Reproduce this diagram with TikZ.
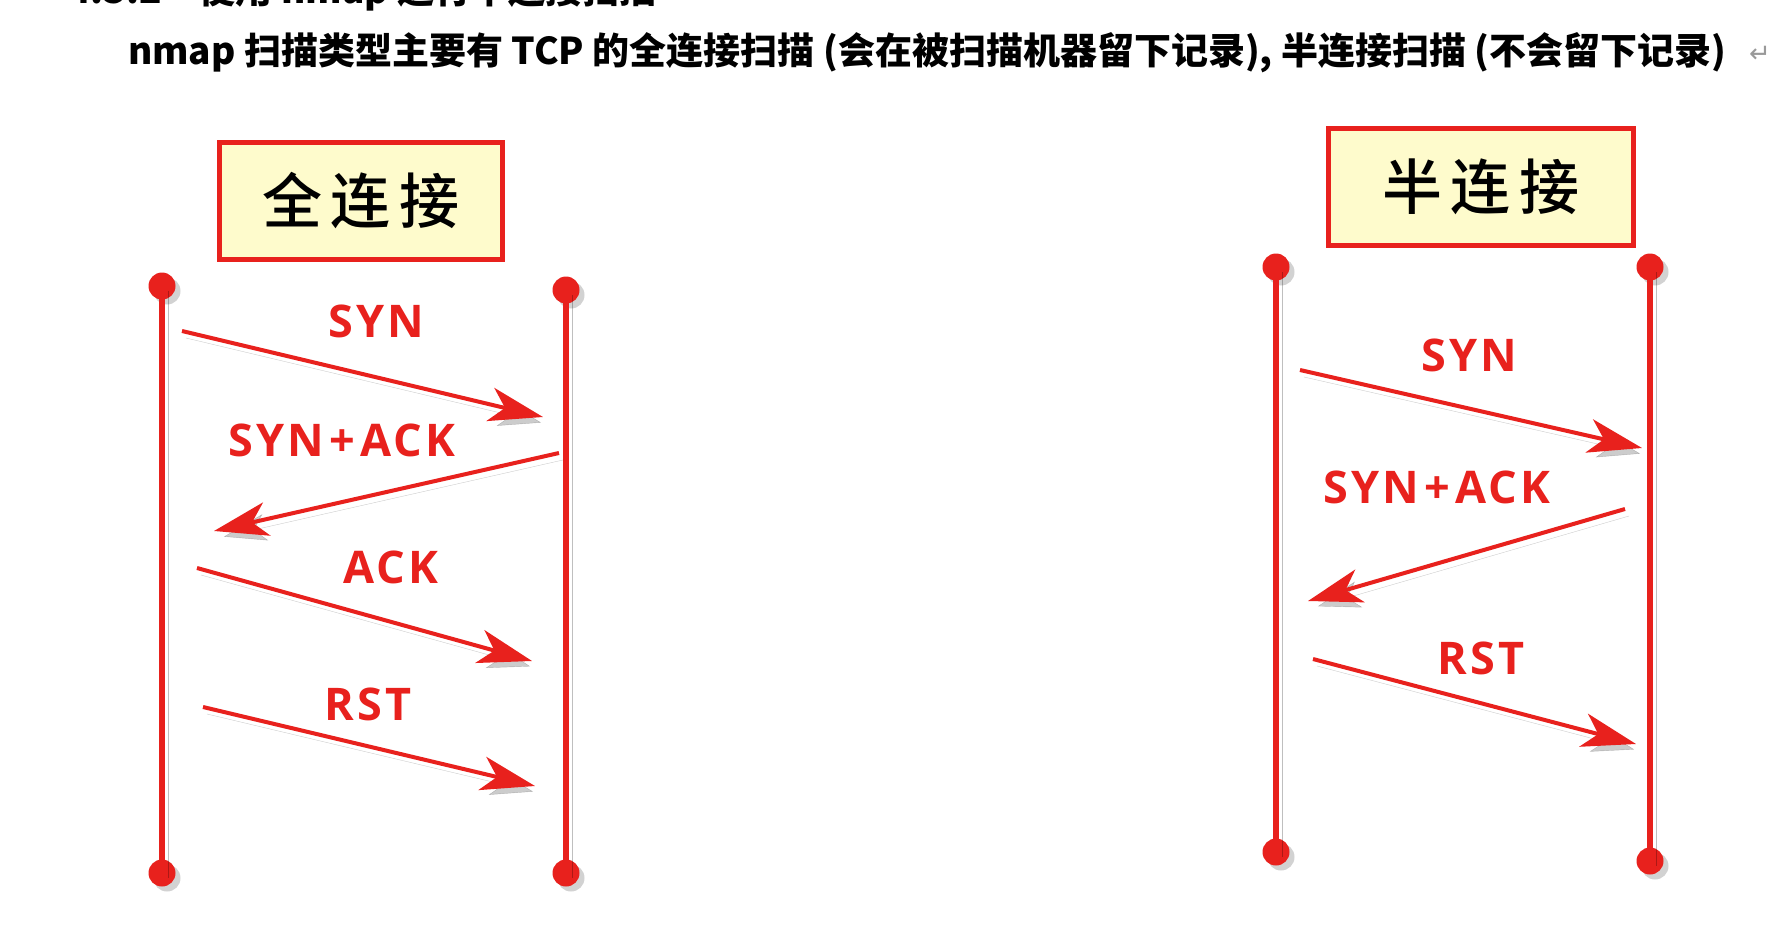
\documentclass[tikz,border=0pt]{standalone}
\usepackage{fontspec}
\setmainfont{Open Sans}
\newfontfamily\lblfont{Open Sans}[LetterSpace=7]
\newfontfamily\cjk{Noto Sans CJK SC}
\newfontfamily\cjktitle{Noto Sans CJK SC Medium}[LetterSpace=14]
\newfontfamily\symfont{DejaVu Sans}
\usetikzlibrary{arrows.meta,shadows}
\definecolor{seqred}{HTML}{E8211D}
\definecolor{boxfill}{HTML}{FEFBCC}

\begin{document}
\begin{tikzpicture}[x=1pt,y=-1pt,>={Stealth[length=54pt,width=34pt,inset=15pt]},
  lifedot/.style={circle,fill=seqred,inner sep=0pt,minimum size=27pt,
    drop shadow={shadow xshift=5pt,shadow yshift=-5pt,opacity=.35}},
  life/.style={draw=seqred,line width=6.5pt,
    preaction={draw=black,opacity=.25,transform canvas={shift={(6pt,-5pt)}}}},
  msg/.style={draw=seqred,line width=4pt,->,
    preaction={draw=black,opacity=.2,transform canvas={shift={(4pt,-7pt)}}}},
  lbl/.style={text=seqred,font=\lblfont\fontsize{45}{54}\selectfont\bfseries},
  titlebox/.style={draw=seqred,line width=5pt,fill=boxfill,minimum height=117pt,
    font=\cjktitle\fontsize{60}{66}\selectfont}]
  \useasboundingbox[fill=white] (0,0) rectangle (1786,926);
  % heading text
  \node[anchor=base west,inner sep=0pt,font=\cjk\bfseries\fontsize{37}{40}\selectfont] (head) at (68,4) {4.3.2\quad 使用 nmap 进行半连接扫描};
  \node[anchor=base west,inner sep=0pt,font=\cjk\bfseries\fontsize{37}{40}\selectfont] (intro) at (128,64)
    {nmap 扫描类型主要有 TCP 的全连接扫描 (会在被扫描机器留下记录), 半连接扫描 (不会留下记录)};
  \node[anchor=base west,inner sep=0pt,text=black!40,font=\symfont\fontsize{26}{30}\selectfont] (ret) at (1749,62) {↵};
  % full connect
  \node[titlebox,minimum width=283pt] (tfull) at (361,201) {全连接};
  \node[lifedot] (la1) at (162,286) {};
  \node[lifedot] (la2) at (162,873) {};
  \node[lifedot] (lb1) at (566,290) {};
  \node[lifedot] (lb2) at (566,873) {};
  \draw[life] (la1.center)--(la2.center); \draw[life] (lb1.center)--(lb2.center);
  \coordinate (f1s) at (182,331); \coordinate (f1e) at (543,417);
  \coordinate (f2s) at (559,453); \coordinate (f2e) at (214,531);
  \coordinate (f3s) at (197,568); \coordinate (f3e) at (532,661);
  \coordinate (f4s) at (203,707); \coordinate (f4e) at (535,786);
  \draw[msg] (f1s)--(f1e); \draw[msg] (f2s)--(f2e);
  \draw[msg] (f3s)--(f3e); \draw[msg] (f4s)--(f4e);
  \node[lbl] (fsyn) at (376,321) {SYN};
  \node[lbl] (fsa) at (342,440) {SYN\hspace{5pt}+\hspace{5pt}ACK};
  \node[lbl] (fack) at (391,567) {ACK};
  \node[lbl] (frst) at (368,704) {RST};
  % half connect
  \node[titlebox,minimum width=305pt] (thalf) at (1481,187) {半连接\hspace{28pt}};
  \node[lifedot] (ra1) at (1276,267) {};
  \node[lifedot] (ra2) at (1276,852) {};
  \node[lifedot] (rb1) at (1650,267) {};
  \node[lifedot] (rb2) at (1650,861) {};
  \draw[life] (ra1.center)--(ra2.center); \draw[life] (rb1.center)--(rb2.center);
  \coordinate (h1s) at (1300,370); \coordinate (h1e) at (1642,448);
  \coordinate (h2s) at (1625,509); \coordinate (h2e) at (1308,601);
  \coordinate (h3s) at (1313,659); \coordinate (h3e) at (1636,744);
  \draw[msg] (h1s)--(h1e); \draw[msg] (h2s)--(h2e); \draw[msg] (h3s)--(h3e);
  \node[lbl] (hsyn) at (1469,355) {SYN};
  \node[lbl] (hsa) at (1437,487) {SYN\hspace{5pt}+\hspace{5pt}ACK};
  \node[lbl] (hrst) at (1481,658) {RST};
\end{tikzpicture}
\end{document}
